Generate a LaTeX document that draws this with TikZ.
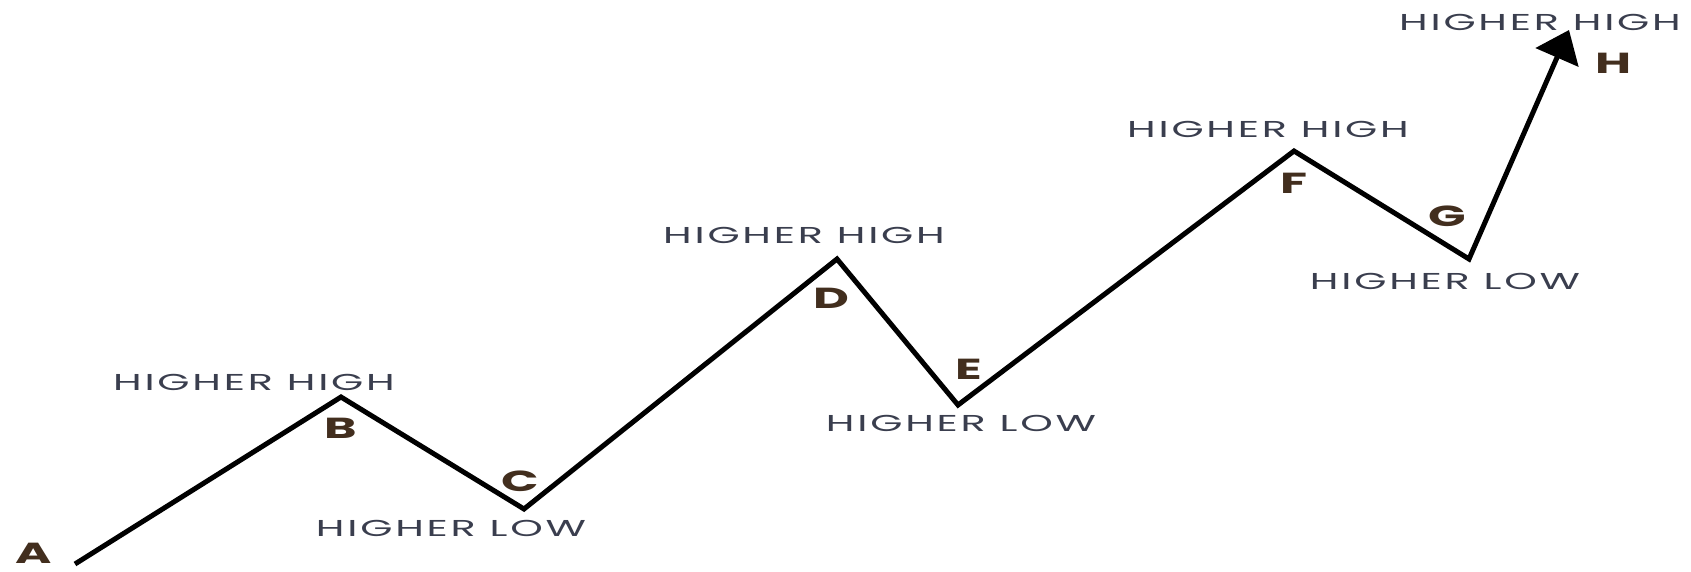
\documentclass[tikz,border=0pt]{standalone}
\usepackage{fontspec}
\usetikzlibrary{arrows.meta}
\newfontfamily\gothicfont[FakeStretch=1.8, LetterSpace=12]{Poppins}
\newfontfamily\pointfont[FakeStretch=1.7]{Poppins}
\definecolor{trendtext}{RGB}{58,62,78}
\definecolor{pointtext}{RGB}{66,46,30}

\begin{document}
\begin{tikzpicture}[x=1pt, y=-1pt, >={Triangle[length=30pt,width=46pt]},
  swing/.style={font=\gothicfont\fontsize{23}{23}\selectfont, text=trendtext, inner sep=0pt},
  point/.style={font=\pointfont\bfseries\fontsize{29}{29}\selectfont, text=pointtext, inner sep=0pt}]
\useasboundingbox (0,0) rectangle (1691,571);

% turning points of the trend
\coordinate (pA) at (75,564);
\coordinate (pB) at (341,397);
\coordinate (pC) at (524,509);
\coordinate (pD) at (837,259);
\coordinate (pE) at (958,405);
\coordinate (pF) at (1294,151);
\coordinate (pG) at (1469,259);
\coordinate (pH) at (1569,30);

\draw[->, line width=5pt] (pA) -- (pB) -- (pC) -- (pD) -- (pE) -- (pF) -- (pG) -- (pH);

% letters
\node[point] (lA) at (34,553) {A};
\node[point] (lB) at (341,428) {B};
\node[point] (lC) at (520,481) {C};
\node[point] (lD) at (831,298) {D};
\node[point] (lE) at (969,369) {E};
\node[point] (lF) at (1294,183) {F};
\node[point] (lG) at (1447,216) {G};
\node[point] (lH) at (1613,63) {H};

% swing labels
\node[swing] (hhB) at (254,382) {HIGHER HIGH};
\node[swing] (hlC) at (451,528) {HIGHER LOW};
\node[swing] (hhD) at (804,235) {HIGHER HIGH};
\node[swing] (hlE) at (961,423) {HIGHER LOW};
\node[swing] (hhF) at (1268,129) {HIGHER HIGH};
\node[swing] (hlG) at (1445,281) {HIGHER LOW};
\node[swing] (hhH) at (1540,22) {HIGHER HIGH};
\end{tikzpicture}
\end{document}
